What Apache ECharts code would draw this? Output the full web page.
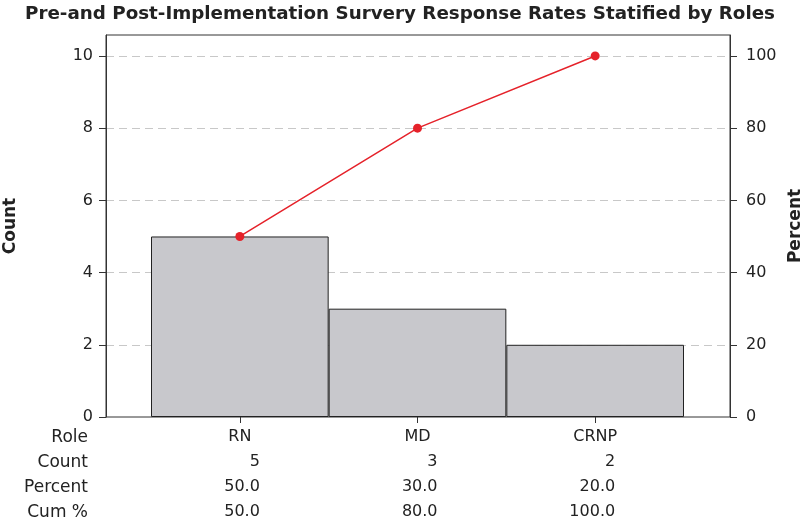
<!DOCTYPE html>
<html>
<head>
<meta charset="utf-8">
<script src="https://cdn.jsdelivr.net/npm/echarts@6/dist/echarts.min.js"></script>
<style>html,body{margin:0;padding:0;background:#fff}#c{width:800px;height:519px}</style>
</head>
<body>
<div id="c"></div>
<script>
const roles = ['RN', 'MD', 'CRNP'];
const counts = [5, 3, 2];
const percents = [50.0, 30.0, 20.0];
const cumPct = [50.0, 80.0, 100.0];
const rowLabels = ['Role', 'Count', 'Percent', 'Cum %'];
const countTicks = [0, 2, 4, 6, 8, 10];
const pctTicks = [0, 20, 40, 60, 80, 100];

const FONT = 'DejaVu Sans';
const TXT = '#222';
const countMax = 10.58, pctMax = 105.8;

const chart = echarts.init(document.getElementById('c'), null, {renderer: 'canvas'});
const option = {
  animation: false,
  backgroundColor: '#fff',
  textStyle: {fontFamily: FONT, color: TXT},
  title: {
    text: 'Pre-and Post-Implementation Survery Response Rates Statified by Roles',
    left: 'center', top: 0,
    textStyle: {fontFamily: FONT, fontSize: 18.3, fontWeight: 'bold', color: TXT}
  },
  grid: [
    {left: 106, right: 70, top: 35, bottom: 102, show: true, borderColor: '#333', borderWidth: 1,
     backgroundColor: 'transparent', outerBoundsMode: 'none', containLabel: false},
    {left: 151, right: 116, top: 35, bottom: 102, outerBoundsMode: 'none', containLabel: false}
  ],
  xAxis: [
    {gridIndex: 0, type: 'value', min: 0, max: 1, show: false},
    {
      gridIndex: 1, type: 'category', data: roles,
      axisLine: {show: false},
      axisTick: {show: true, alignWithLabel: true, length: 6, lineStyle: {color: '#333'}},
      axisLabel: {
        margin: 7, interval: 0, color: TXT, fontFamily: FONT, fontSize: 16, lineHeight: 25,
        formatter: function (val, idx) {
          return '{r|' + val + '}\n{v|' + counts[idx] + '}\n{v|' + percents[idx].toFixed(1) + '}\n{v|' + cumPct[idx].toFixed(1) + '}';
        },
        rich: {
          r: {width: 40, align: 'center', fontSize: 16, lineHeight: 25, fontFamily: FONT, color: TXT},
          v: {width: 40, align: 'right', fontSize: 16, lineHeight: 25, fontFamily: FONT, color: TXT}
        }
      }
    }
  ],
  yAxis: [
    {
      gridIndex: 0, type: 'value', position: 'left', min: 0, max: countMax, interval: 2,
      name: 'Count', nameLocation: 'middle', nameRotate: 90, nameGap: 87,
      nameTextStyle: {fontFamily: FONT, fontSize: 17, fontWeight: 'bold', color: TXT},
      axisLine: {show: true, lineStyle: {color: '#333'}},
      axisTick: {show: true, length: 7, customValues: countTicks, lineStyle: {color: '#333'}},
      axisLabel: {color: TXT, fontFamily: FONT, fontSize: 16, margin: 13, customValues: countTicks,
        formatter: v => countTicks.includes(v) ? String(v) : ''},
      splitLine: {show: true, showMinLine: false, showMaxLine: true,
        lineStyle: {color: '#c8c8c8', type: [8, 5], width: 1}}
    },
    {
      gridIndex: 0, type: 'value', position: 'right', min: 0, max: pctMax, interval: 20,
      name: 'Percent', nameLocation: 'middle', nameRotate: 90, nameGap: 51,
      nameTextStyle: {fontFamily: FONT, fontSize: 17, fontWeight: 'bold', color: TXT},
      axisLine: {show: true, lineStyle: {color: '#333'}},
      axisTick: {show: true, length: 7, customValues: pctTicks, lineStyle: {color: '#333'}},
      axisLabel: {color: TXT, fontFamily: FONT, fontSize: 16, margin: 16, customValues: pctTicks,
        formatter: v => pctTicks.includes(v) ? String(v) : ''},
      splitLine: {show: false}
    },
    {gridIndex: 1, type: 'value', min: 0, max: countMax, show: false, splitLine: {show: false}},
    {gridIndex: 1, type: 'value', min: 0, max: pctMax, show: false, splitLine: {show: false}}
  ],
  graphic: [{
    type: 'text', x: 88, y: 425,
    style: {text: rowLabels.join('\n'), font: '17px "DejaVu Sans"', fill: TXT, align: 'right', lineHeight: 25}
  }],
  series: [
    {
      type: 'bar', xAxisIndex: 1, yAxisIndex: 2, data: counts,
      barWidth: '100%', barGap: 0,
      itemStyle: {color: '#c8c8cc', borderColor: '#222', borderWidth: 1}
    },
    {
      type: 'line', xAxisIndex: 1, yAxisIndex: 3, data: cumPct,
      symbol: 'circle', symbolSize: 9,
      lineStyle: {color: '#e5222a', width: 1.5},
      itemStyle: {color: '#e5222a'}
    }
  ]
};
chart.setOption(option);
</script>
</body>
</html>
